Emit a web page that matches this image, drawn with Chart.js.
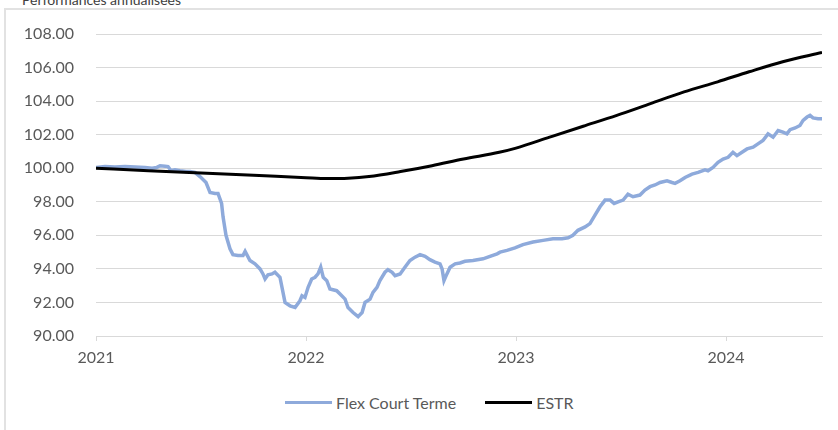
<!DOCTYPE html>
<html>
<head>
<meta charset="utf-8">
<script src="https://cdn.jsdelivr.net/npm/chart.js@4/dist/chart.umd.min.js"></script>
<style>
  body { margin: 0; background: #fff; }
  #wrap { position: relative; width: 838px; height: 430px; overflow: hidden; font-family: Lato, sans-serif; }
  #frame { position: absolute; left: 4px; top: 8px; width: 900px; height: 500px; border-left: 2px solid #e2e2e2; border-top: 2px solid #e2e2e2; }
  #title { position: absolute; left: 22px; top: -9px; font-size: 14px; color: #404040; white-space: nowrap; }
  #chartBox { position: absolute; left: 0; top: 0; width: 838px; height: 376px; }
  #legend { position: absolute; left: 285px; top: 393px; display: flex; align-items: center; font-size: 16px; color: #595959; }
  .item { display: flex; align-items: center; margin-right: 29px; }
  .swatch { width: 47px; height: 3px; margin-right: 4px; }
</style>
</head>
<body>
<div id="wrap">
  <div id="frame"></div>
  <div id="title">Performances annualisées</div>
  <div id="chartBox"><canvas id="perfChart" width="838" height="376"></canvas></div>
  <div id="legend"></div>
</div>
<script>
// time as decimal years
const flexTimes = [
  2021.000, 2021.043, 2021.090, 2021.138, 2021.186, 2021.233, 2021.267, 2021.290, 2021.305, 2021.329,
  2021.343, 2021.357, 2021.376, 2021.400, 2021.429, 2021.448, 2021.471, 2021.495, 2021.524, 2021.543,
  2021.567, 2021.581, 2021.598, 2021.605, 2021.619, 2021.638, 2021.652, 2021.676, 2021.700, 2021.710,
  2021.733, 2021.757, 2021.781, 2021.795, 2021.805, 2021.819, 2021.838, 2021.852, 2021.876, 2021.900,
  2021.924, 2021.948, 2021.971, 2021.981, 2021.995, 2022.010, 2022.027, 2022.043, 2022.057, 2022.070,
  2022.082, 2022.099, 2022.114, 2022.146, 2022.162, 2022.186, 2022.200, 2022.224, 2022.248, 2022.267,
  2022.281, 2022.305, 2022.319, 2022.338, 2022.352, 2022.376, 2022.390, 2022.410, 2022.424, 2022.448,
  2022.471, 2022.495, 2022.519, 2022.543, 2022.567, 2022.590, 2022.614, 2022.638, 2022.648, 2022.657,
  2022.671, 2022.686, 2022.710, 2022.733, 2022.757, 2022.795, 2022.843, 2022.876, 2022.910, 2022.924,
  2022.957, 2022.995, 2023.033, 2023.081, 2023.129, 2023.176, 2023.219, 2023.248, 2023.271, 2023.295,
  2023.329, 2023.352, 2023.376, 2023.400, 2023.424, 2023.448, 2023.467, 2023.486, 2023.510, 2023.533,
  2023.557, 2023.590, 2023.614, 2023.638, 2023.662, 2023.686, 2023.719, 2023.743, 2023.757, 2023.781,
  2023.805, 2023.838, 2023.867, 2023.900, 2023.914, 2023.938, 2023.962, 2023.986, 2024.010, 2024.033,
  2024.052, 2024.076, 2024.100, 2024.129, 2024.152, 2024.176, 2024.200, 2024.224, 2024.248, 2024.271,
  2024.290, 2024.305, 2024.329, 2024.352, 2024.367, 2024.386, 2024.400, 2024.414, 2024.438, 2024.457
];
const flexValues = [
  100.05, 100.10, 100.08, 100.10, 100.07, 100.05, 100.00, 100.05, 100.15, 100.12,
  100.10, 99.85, 99.90, 99.85, 99.80, 99.80, 99.75, 99.50, 99.15, 98.55,
  98.50, 98.50, 97.90, 97.10, 96.00, 95.20, 94.85, 94.80, 94.80, 95.05,
  94.50, 94.30, 94.00, 93.70, 93.40, 93.65, 93.70, 93.80, 93.50, 92.00,
  91.80, 91.70, 92.10, 92.40, 92.30, 92.90, 93.40, 93.50, 93.70, 94.10,
  93.50, 93.30, 92.80, 92.70, 92.50, 92.20, 91.70, 91.40, 91.15, 91.40,
  92.00, 92.20, 92.60, 92.90, 93.30, 93.80, 93.95, 93.80, 93.60, 93.70,
  94.10, 94.50, 94.70, 94.85, 94.75, 94.55, 94.40, 94.30, 94.00, 93.30,
  93.70, 94.10, 94.30, 94.35, 94.45, 94.50, 94.60, 94.75, 94.90, 95.00,
  95.10, 95.25, 95.45, 95.60, 95.70, 95.80, 95.80, 95.85, 96.00, 96.30,
  96.50, 96.70, 97.20, 97.70, 98.10, 98.10, 97.90, 98.00, 98.10, 98.45,
  98.30, 98.40, 98.70, 98.90, 99.00, 99.15, 99.25, 99.15, 99.10, 99.25,
  99.45, 99.65, 99.75, 99.90, 99.85, 100.05, 100.35, 100.55, 100.65, 100.95,
  100.75, 100.95, 101.15, 101.25, 101.45, 101.65, 102.05, 101.85, 102.25, 102.15,
  102.05, 102.30, 102.40, 102.55, 102.85, 103.05, 103.15, 103.00, 102.95, 102.95
];

const estrTimes = [
  2021.00, 2021.25, 2021.50, 2021.75, 2022.00, 2022.10, 2022.20, 2022.30, 2022.45, 2022.60,
  2022.75, 2022.92, 2023.00, 2023.16, 2023.32, 2023.48, 2023.64, 2023.80, 2023.96, 2024.11,
  2024.27, 2024.457
];
const estrValues = [
  100.00, 99.85, 99.72, 99.58, 99.43, 99.38, 99.40, 99.50, 99.80, 100.15,
  100.55, 100.95, 101.20, 101.85, 102.50, 103.15, 103.85, 104.55, 105.15, 105.75,
  106.35, 106.90
];

const yearTicks = [2021, 2022, 2023, 2024];
const seriesNames = ['Flex Court Terme', 'ESTR'];
const seriesColors = ['#8eaadb', '#000000'];

const toPoints = (xs, ys) => xs.map((x, i) => ({ x: x, y: ys[i] }));

const ctx = document.getElementById('perfChart').getContext('2d');
const chart = new Chart(ctx, {
    type: 'line',
    data: {
        datasets: [{
            label: seriesNames[0],
            data: toPoints(flexTimes, flexValues),
            borderColor: seriesColors[0],
            backgroundColor: seriesColors[0],
            borderWidth: 3.5,
            pointRadius: 0,
            tension: 0,
            order: 2
        }, {
            label: seriesNames[1],
            data: toPoints(estrTimes, estrValues),
            borderColor: seriesColors[1],
            backgroundColor: seriesColors[1],
            borderWidth: 3,
            pointRadius: 0,
            tension: 0.4,
            cubicInterpolationMode: 'monotone',
            order: 1
        }]
    },
    options: {
        responsive: false,
        animation: false,
        events: [],
        layout: { padding: { left: 0, right: 16, top: 34, bottom: 0 } },
        scales: {
            x: {
                type: 'linear',
                min: 2021,
                max: flexTimes[flexTimes.length - 1],
                afterBuildTicks: function(scale) {
                    scale.ticks = yearTicks.map(v => ({ value: v }));
                },
                afterFit: function(scale) { scale.height = 40; },
                ticks: {
                    color: '#595959',
                    font: { family: 'Lato', size: 16 },
                    padding: 7,
                    maxRotation: 0,
                    callback: function(value) { return String(value); }
                },
                grid: {
                    drawOnChartArea: false,
                    drawTicks: true,
                    tickLength: 5,
                    color: '#d9d9d9'
                },
                border: { display: true, color: '#d9d9d9', width: 1 }
            },
            y: {
                min: 90,
                max: 108,
                afterFit: function(scale) { scale.width = 96; },
                ticks: {
                    stepSize: 2,
                    color: '#595959',
                    font: { family: 'Lato', size: 16 },
                    padding: 22,
                    callback: function(value) { return value.toFixed(2); }
                },
                grid: { color: '#d9d9d9', drawTicks: false },
                border: { display: false }
            }
        },
        plugins: {
            legend: { display: false },
            tooltip: { enabled: false }
        }
    }
});

// legend as html, built from the datasets
const legend = document.getElementById('legend');
chart.data.datasets.forEach(function(ds) {
    const item = document.createElement('div');
    item.className = 'item';
    const sw = document.createElement('span');
    sw.className = 'swatch';
    sw.style.background = ds.borderColor;
    const label = document.createElement('span');
    label.textContent = ds.label;
    item.appendChild(sw);
    item.appendChild(label);
    legend.appendChild(item);
});
</script>
</body>
</html>
